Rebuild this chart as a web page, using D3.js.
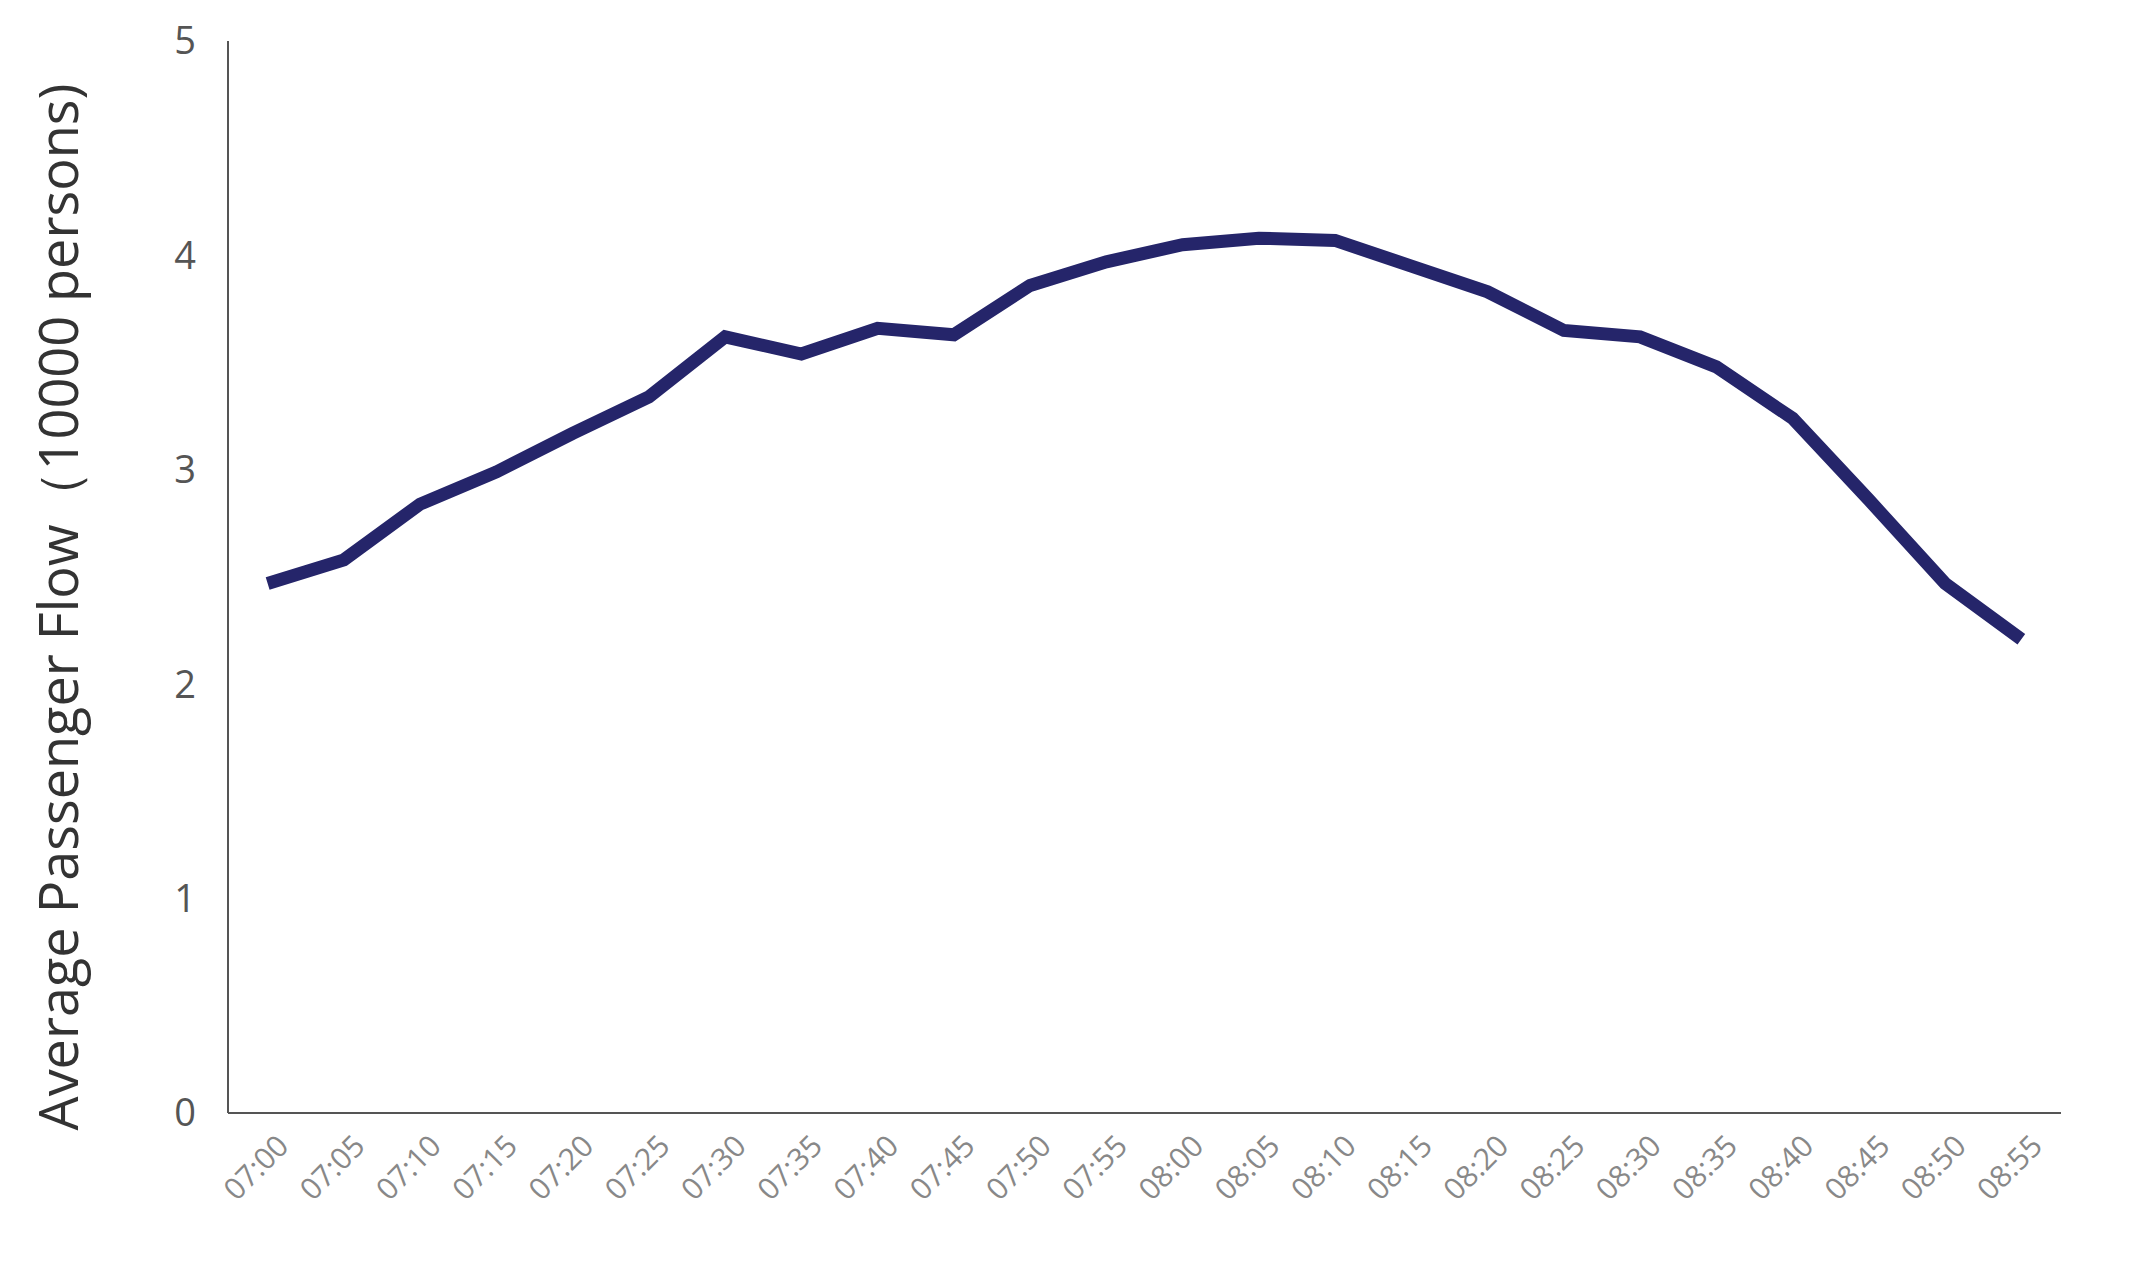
<!DOCTYPE html>
<html><head><meta charset="utf-8">
<script src="https://cdn.jsdelivr.net/npm/d3@7"></script>
<style>body{margin:0;background:#fff}</style></head>
<body><svg id="c" width="2131" height="1266"></svg>
<script>
const categories=["07:00","07:05","07:10","07:15","07:20","07:25","07:30","07:35","07:40","07:45","07:50","07:55","08:00","08:05","08:10","08:15","08:20","08:25","08:30","08:35","08:40","08:45","08:50","08:55"];
const values=[2.47,2.58,2.84,2.99,3.17,3.34,3.62,3.54,3.66,3.63,3.86,3.97,4.05,4.08,4.07,3.95,3.83,3.65,3.62,3.48,3.24,2.86,2.47,2.21];
const yTicks=[0,1,2,3,4,5];
const svg=d3.select("#c");
const L=228,R=2061,T=41,B=1113;
const x=d3.scalePoint().domain(categories).range([L,R]).padding(0.52);
const y=d3.scaleLinear().domain([0,5]).range([B,T]);
const font="'Open Sans', sans-serif";
svg.append("line").attr("x1",L).attr("x2",L).attr("y1",T).attr("y2",B).attr("stroke","#555").attr("stroke-width",2);
svg.append("line").attr("x1",L).attr("x2",R).attr("y1",B).attr("y2",B).attr("stroke","#555").attr("stroke-width",2);
svg.selectAll(".yt").data(yTicks).enter().append("text").attr("x",L-32).attr("y",d=>y(d)).attr("dy","0.35em")
 .attr("text-anchor","end").attr("font-family",font).attr("font-size",38).attr("fill","#555").text(d=>d);
svg.selectAll(".xt").data(categories).enter().append("text")
 .attr("transform",d=>`translate(${x(d)+8},${B+20}) rotate(-45)`).attr("text-anchor","end").attr("dy","0.7em")
 .attr("font-family",font).attr("font-size",30).attr("fill","#888").text(d=>d);
svg.append("text").attr("transform",`translate(78,${(T+B)/2+30}) rotate(-90)`).attr("text-anchor","middle")
 .attr("font-family",font).attr("font-size",54).attr("fill","#333").text("Average Passenger Flow（10000 persons)");
svg.append("path").datum(values).attr("fill","none").attr("stroke","#25256a").attr("stroke-width",13)
 .attr("d",d3.line().x((d,i)=>x(categories[i])).y(d=>y(d)));
</script></body></html>
